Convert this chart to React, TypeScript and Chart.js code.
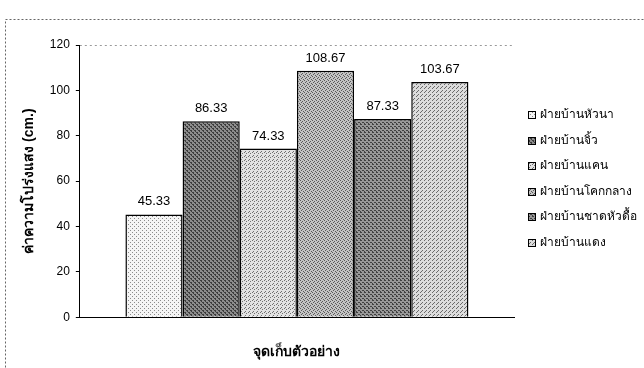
import React, { useEffect, useRef } from "react";
import { Chart, registerables } from "chart.js";

Chart.register(...registerables);

const categories = [""];
const seriesNames = [
  "ฝ่ายบ้านหัวนา",
  "ฝ่ายบ้านจิ้ว",
  "ฝ่ายบ้านแคน",
  "ฝ่ายบ้านโคกกลาง",
  "ฝ่ายบ้านชาดหัวดื้อ",
  "ฝ่ายบ้านแดง",
];
const seriesValues = [45.33, 86.33, 74.33, 108.67, 87.33, 103.67];
const yTicks = [0, 20, 40, 60, 80, 100, 120];
const yTitle = "ค่าความโปร่งแสง (cm.)";
const xTitle = "จุดเก็บตัวอย่าง";

const FONT = "'Liberation Sans', Arial, 'DejaVu Sans', sans-serif";

function makePattern(base: string, dot: string, cells: number[][], size: number) {
  const c = document.createElement("canvas");
  c.width = size;
  c.height = size;
  const g = c.getContext("2d")!;
  g.fillStyle = base;
  g.fillRect(0, 0, size, size);
  g.fillStyle = dot;
  cells.forEach(([x, y]) => g.fillRect(x, y, 1, 1));
  return g.createPattern(c, "repeat") as CanvasPattern;
}

export default function App() {
  const ref = useRef<HTMLCanvasElement>(null);
  useEffect(() => {
    document.body.style.margin = "0";
    const ctx = ref.current!.getContext("2d")!;
    const patterns = [
      makePattern("#f4f4f4", "#8a8a8a", [[0, 0], [2, 2]], 4),
      makePattern("#8c8c8c", "#3c3c3c", [[0, 0], [1, 0], [2, 2], [3, 2], [1, 1], [3, 3]], 4),
      makePattern("#e2e2e2", "#707070", [[0, 0], [2, 1], [1, 3]], 4),
      makePattern("#c4c4c4", "#5a5a5a", [[0, 0], [2, 1], [1, 2], [3, 3]], 4),
      makePattern("#989898", "#404040", [[0, 0], [1, 0], [2, 2], [3, 2], [0, 3]], 4),
      makePattern("#dcdcdc", "#6a6a6a", [[0, 0], [2, 2], [1, 3]], 4),
    ];

    const decor = {
      id: "decor",
      beforeDraw(chart: any) {
        const c = chart.ctx;
        const a = chart.chartArea;
        c.save();
        c.strokeStyle = "#666";
        c.lineWidth = 1;
        c.setLineDash([2, 2]);
        c.strokeRect(5.5, 19.5, 700, 400);
        c.strokeStyle = "#999";
        c.setLineDash([2, 3]);
        c.beginPath();
        c.moveTo(a.left, Math.round(a.top) + 0.5);
        c.lineTo(a.right, Math.round(a.top) + 0.5);
        c.stroke();
        c.restore();
      },
      afterDatasetsDraw(chart: any) {
        const c = chart.ctx;
        c.save();
        c.fillStyle = "#000";
        c.font = `13px ${FONT}`;
        c.textAlign = "center";
        c.textBaseline = "bottom";
        chart.data.datasets.forEach((ds: any, i: number) => {
          const el = chart.getDatasetMeta(i).data[0];
          c.fillText(Number(ds.data[0]).toFixed(2), el.x, el.y - 6);
        });
        // legend
        const lx = 528;
        const ly0 = 115;
        const step = 25.5;
        c.font = `12px ${FONT}`;
        c.textAlign = "left";
        c.textBaseline = "middle";
        chart.data.datasets.forEach((ds: any, i: number) => {
          const y = Math.round(ly0 + i * step);
          c.fillStyle = ds.backgroundColor;
          c.fillRect(lx, y - 4, 7, 7);
          c.strokeStyle = "#000";
          c.lineWidth = 1;
          c.strokeRect(lx + 0.5, y - 3.5, 7, 7);
          c.fillStyle = "#000";
          c.fillText(ds.label, lx + 12, y);
        });
        c.restore();
      },
    };

    const chart = new Chart(ctx, {
      type: "bar",
      data: {
        labels: categories,
        datasets: seriesNames.map((name, i) => ({
          label: name,
          data: [seriesValues[i]],
          backgroundColor: patterns[i] as any,
          borderColor: "#000",
          borderWidth: 1.5,
          categoryPercentage: 0.79,
          barPercentage: 1,
        })),
      },
      options: {
        responsive: false,
        animation: false,
        layout: { padding: { left: 21, right: 130, top: 45, bottom: 7 } },
        plugins: { legend: { display: false }, tooltip: { enabled: false } },
        scales: {
          x: {
            grid: { display: false },
            border: { display: true, color: "#000", width: 1 },
            ticks: { display: false },
            title: {
              display: true,
              text: xTitle,
              color: "#000",
              font: { family: FONT, size: 14, weight: "bold" },
              padding: { top: 19, bottom: 0 },
            },
          },
          y: {
            min: 0,
            max: 120,
            afterBuildTicks: (axis: any) => {
              axis.ticks = yTicks.map((v) => ({ value: v }));
            },
            ticks: {
              color: "#000",
              font: { family: FONT, size: 12 },
              padding: 6,
            },
            grid: { drawOnChartArea: false, tickLength: 4, color: "#000" },
            border: { display: true, color: "#000", width: 1 },
            title: {
              display: true,
              text: yTitle,
              color: "#000",
              font: { family: FONT, size: 14, weight: "bold" },
              padding: { top: 0, bottom: 6 },
            },
          },
        },
      },
      plugins: [decor],
    });
    return () => chart.destroy();
  }, []);
  return (
    <div style={{ width: 644, height: 368, background: "#fff" }}>
      <canvas ref={ref} width={644} height={368} style={{ display: "block" }} />
    </div>
  );
}
